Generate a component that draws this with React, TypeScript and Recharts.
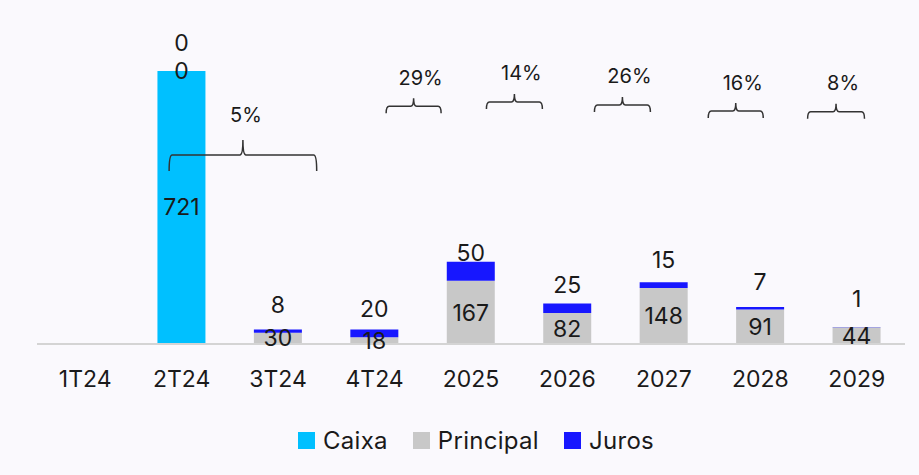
import { BarChart, Bar, XAxis, YAxis, Legend, LabelList } from "recharts";

const categories = ["1T24", "2T24", "3T24", "4T24", "2025", "2026", "2027", "2028", "2029"];
const caixa = [null, 721, null, null, null, null, null, null, null];
const principal = [null, 0, 30, 18, 167, 82, 148, 91, 44];
const juros = [null, 0, 8, 20, 50, 25, 15, 7, 1];

// growth annotations: label, span in category index units, level in value units
const growthLabels = ["5%", "29%", "14%", "26%", "16%", "8%"];
const braceFrom = [1.37, 3.62, 4.66, 5.78, 6.96, 7.99];
const braceTo = [2.9, 4.19, 5.24, 6.36, 7.53, 8.58];
const braceLevel = [499, 628, 639, 631, 615, 613];

const SERIES = ["Caixa", "Principal", "Juros"];

const W = 919;
const H = 475;
const MARGIN = { top: 41, right: 14, left: 37, bottom: 20 };
const Y_MAX = 800;
const PLOT_BOTTOM = 344;
const FONT = "Inter, 'Open Sans', sans-serif";
const TEXT = "#1a1a1a";
const FS = 23;

const COLORS: Record<string, string> = {
  Caixa: "#00c0ff",
  Principal: "#c8c8c8",
  Juros: "#1717ff",
};

const data = categories.map((name, i) => ({
  name,
  Caixa: caixa[i],
  Principal: principal[i],
  Juros: juros[i],
}));

const band = (W - MARGIN.left - MARGIN.right) / categories.length;
const xPx = (idx: number) => MARGIN.left + idx * band;
const yPx = (v: number) => PLOT_BOTTOM - (v * (PLOT_BOTTOM - MARGIN.top)) / Y_MAX;

const fmt = (v: unknown) => (v === null || v === undefined ? "" : String(v));

const txt = { fontSize: FS, fill: TEXT, fontFamily: FONT, textAnchor: "middle" as const };

// cash bar carries its own label plus the (zero-height) stacked labels above it
function CaixaLabel(props: any) {
  const { x, y, width, height, value } = props;
  if (value === null || value === undefined) return null;
  const i = caixa.indexOf(Number(value));
  const cx = Number(x) + Number(width) / 2;
  const top = Number(y);
  return (
    <g>
      <text {...txt} x={cx} y={top + Number(height) / 2} dominantBaseline="central">{value}</text>
      <text {...txt} x={cx} y={top} dominantBaseline="central">{fmt(principal[i])}</text>
      <text {...txt} x={cx} y={top - 20}>{fmt(juros[i])}</text>
    </g>
  );
}

// interest label sits a fixed distance above the principal segment
function JurosLabel(props: any) {
  const { x, y, width, height, value } = props;
  if (value === null || value === undefined) return null;
  return (
    <text {...txt} x={x + width / 2} y={y + height - 20}>{value}</text>
  );
}

function Braces() {
  return (
    <svg width={W} height={H} style={{ position: "absolute", left: 0, top: 0, pointerEvents: "none" }}>
      {growthLabels.map((label, i) => {
        const x1 = xPx(braceFrom[i]);
        const x2 = xPx(braceTo[i]);
        const xc = (x1 + x2) / 2;
        const y = yPx(braceLevel[i]);
        const big = i === 0;
        const arm = big ? 16 : 7;
        const tick = big ? 15 : 8;
        const r = 3;
        const d = `M${x1},${y + arm} Q${x1},${y} ${x1 + r},${y} L${xc - r},${y} Q${xc},${y} ${xc},${y - tick} Q${xc},${y} ${xc + r},${y} L${x2 - r},${y} Q${x2},${y} ${x2},${y + arm}`;
        return (
          <g key={label}>
            <path d={d} fill="none" stroke="#333" strokeWidth={1.5} />
            <text
              x={xc + (big ? 3 : 7)}
              y={y - (big ? 38 : 27)}
              textAnchor="middle"
              dominantBaseline="middle"
              fontSize={20}
              fill={TEXT}
              fontFamily={FONT}
            >
              {label}
            </text>
          </g>
        );
      })}
    </svg>
  );
}

function LegendContent() {
  return (
    <div style={{ display: "flex", justifyContent: "center", alignItems: "center", height: 30, paddingLeft: 10, fontFamily: FONT }}>
      {SERIES.map((name, i) => (
        <div key={name} style={{ display: "flex", alignItems: "center", marginRight: i < SERIES.length - 1 ? 25 : 0 }}>
          <span style={{ width: 17, height: 17, background: COLORS[name], display: "inline-block", marginRight: 8 }} />
          <span style={{ fontSize: 24, letterSpacing: 0.3, color: TEXT }}>{name}</span>
        </div>
      ))}
    </div>
  );
}

export default function App() {
  return (
    <div style={{ position: "fixed", left: 0, top: 0, width: W, height: H, background: "#faf9fd" }}>
      <BarChart width={W} height={H} data={data} margin={MARGIN} barSize={48}>
        <XAxis
          dataKey="name"
          height={81}
          tickLine={false}
          tickSize={0}
          tickMargin={27}
          axisLine={{ stroke: "#d4d4d4", strokeWidth: 2 }}
          tick={{ fontSize: FS, fill: TEXT, fontFamily: FONT }}
        />
        <YAxis hide domain={[0, Y_MAX]} />
        <Legend verticalAlign="bottom" content={LegendContent} />
        <Bar dataKey="Caixa" stackId="a" fill={COLORS.Caixa} isAnimationActive={false}>
          <LabelList dataKey="Caixa" content={CaixaLabel} />
        </Bar>
        <Bar dataKey="Principal" stackId="a" fill={COLORS.Principal} isAnimationActive={false}>
          <LabelList dataKey="Principal" position="center" formatter={fmt} fontSize={FS} fill={TEXT} fontFamily={FONT} />
        </Bar>
        <Bar dataKey="Juros" stackId="a" fill={COLORS.Juros} isAnimationActive={false}>
          <LabelList dataKey="Juros" content={JurosLabel} />
        </Bar>
      </BarChart>
      <Braces />
    </div>
  );
}
